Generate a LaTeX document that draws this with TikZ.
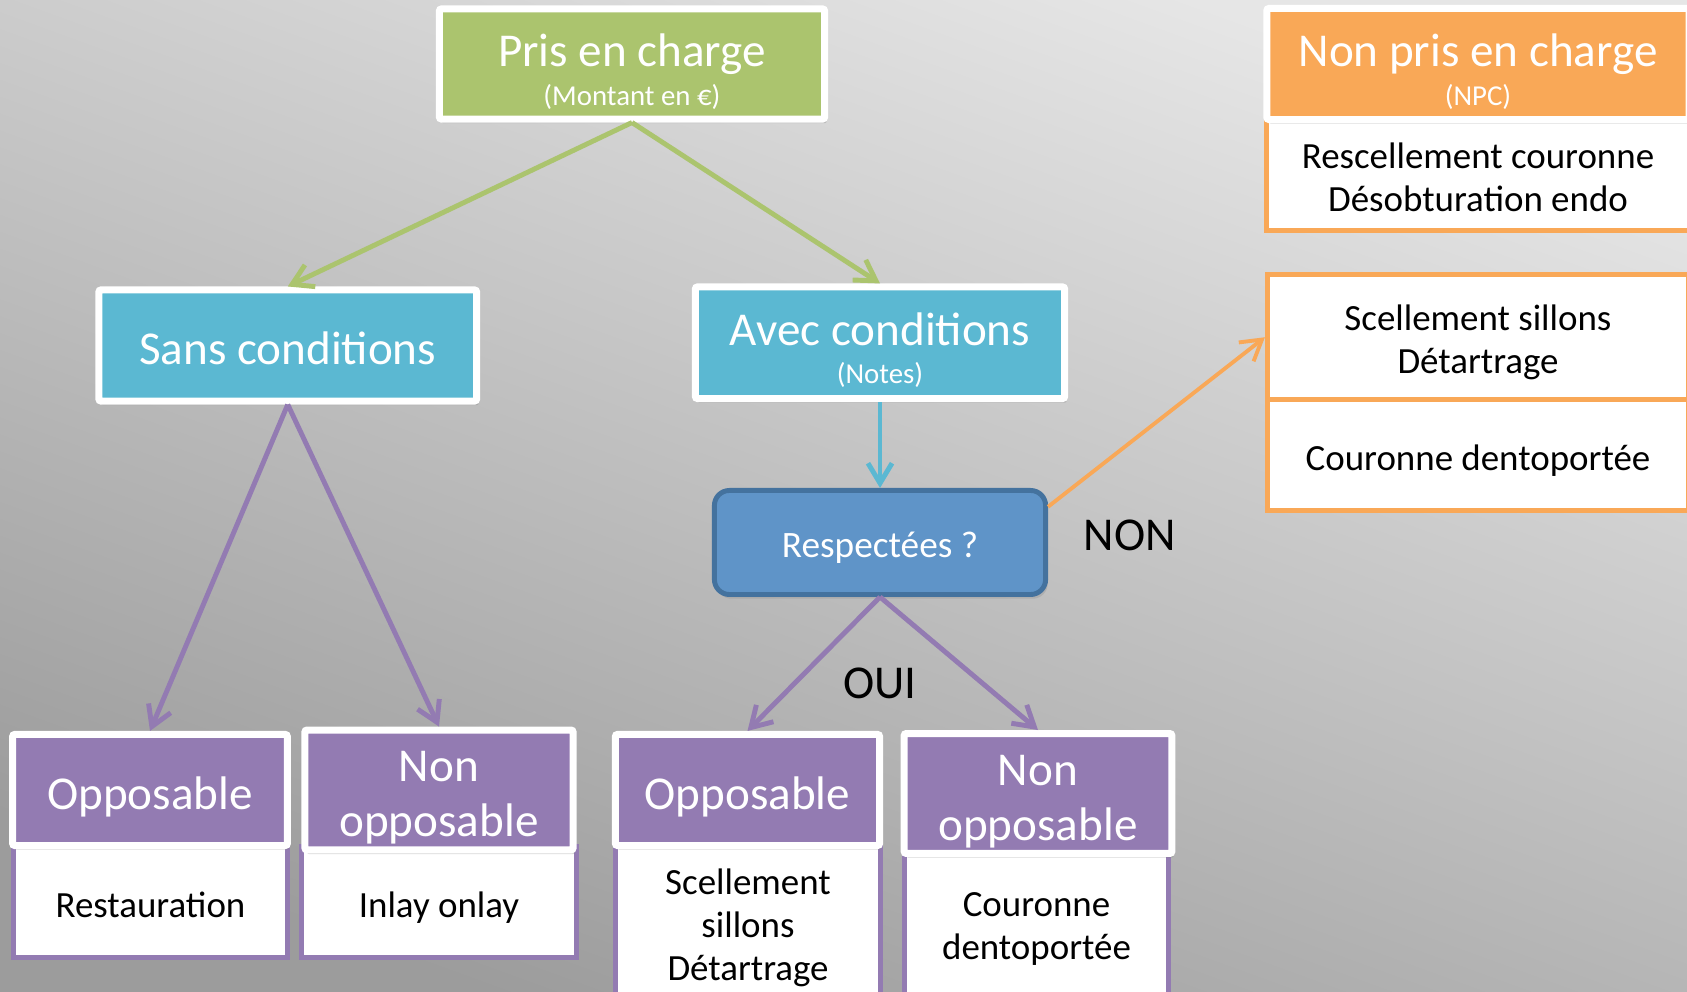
\documentclass[tikz,border=0pt]{standalone}
\usepackage{fontspec}
\setmainfont{Carlito}
\usetikzlibrary{arrows.meta,shadows}
\definecolor{grnbox}{HTML}{ABC46E}
\definecolor{cyanbox}{HTML}{5BB8D2}
\definecolor{purbox}{HTML}{937BB2}
\definecolor{orgbox}{HTML}{F9A857}
\definecolor{respfill}{HTML}{5F94C8}
\definecolor{respdraw}{HTML}{44729E}
\definecolor{bgtop}{HTML}{E6E6E6}
\definecolor{bgbot}{HTML}{9C9C9C}
\newcommand{\bigtxt}{\fontsize{13.4}{15.6}\selectfont}
\newcommand{\smalltxt}{\fontsize{8.2}{10}\selectfont}
\newcommand{\bodytxt}{\fontsize{10.5}{12.2}\selectfont}
% line box as the slide software sets it: top of first line, bottom of last line
\newcommand{\topstrut}{\rule{0pt}{1.1em}}
\newcommand{\botstrut}{\rule[-0.28em]{0pt}{0.28em}}

\begin{document}
\begin{tikzpicture}[x=0.01cm,y=-0.01cm,
    boxtxt/.style={inner sep=0pt,align=center},
    hdr/.style={boxtxt,draw=white,line width=2pt,rounded corners=0.6pt,text=white,font=\bigtxt,
                drop shadow={opacity=0.3,shadow xshift=0.6pt,shadow yshift=-1.2pt}},
    cnt/.style={boxtxt,fill=white,line width=1.4pt,font=\bodytxt},
    lnk/.style={line width=1.4pt,-{Straight Barb[length=2mm,width=2.4mm]}}]
    \useasboundingbox (0,0) rectangle (1687,992);
    \shade[top color=bgtop,bottom color=bgbot,shading angle=-20] (0,0) rectangle (1687,992);

    % white boxes under the headers
    \node[cnt,draw=orgbox,minimum width=4.22cm,minimum height=1.125cm] (npclist) at (1478,174.5) {\topstrut Rescellement couronne\\Désobturation endo\botstrut};
    \node[cnt,draw=orgbox,minimum width=4.21cm,minimum height=1.255cm] (scel) at (1478,337.25) {\topstrut Scellement sillons\\Détartrage\botstrut};
    \node[cnt,draw=orgbox,minimum width=4.21cm,minimum height=1.105cm] (cour) at (1478,455.25) {\topstrut Couronne dentoportée\botstrut};
    \node[cnt,draw=purbox,minimum width=2.74cm,minimum height=1.11cm] (resto) at (150.5,902) {\topstrut Restauration\botstrut};
    \node[cnt,draw=purbox,minimum width=2.75cm,minimum height=1.11cm] (inlay) at (439,902) {\topstrut Inlay onlay\botstrut};
    \node[cnt,draw=purbox,minimum width=2.65cm,minimum height=1.54cm] (scel2) at (748,922) {\topstrut Scellement\\sillons\\Détartrage\botstrut};
    \node[cnt,draw=purbox,minimum width=2.64cm,minimum height=1.55cm] (cour2) at (1036.5,922.5) {\topstrut Couronne\\dentoportée\botstrut};

    % headers
    \node[hdr,fill=grnbox,font=\fontsize{13.4}{11.1}\selectfont,minimum width=3.85cm,minimum height=1.1cm] (pris) at (632,64) {\topstrut Pris en charge\\{\smalltxt(Montant en €)\botstrut}};
    \node[hdr,fill=orgbox,font=\fontsize{13.4}{11}\selectfont,minimum width=4.22cm,minimum height=1.11cm] (npc) at (1478,64) {\topstrut Non pris en charge\\{\smalltxt(NPC)\botstrut}};
    \node[hdr,fill=cyanbox,minimum width=3.775cm,minimum height=1.11cm] (sans) at (287.75,345.5) {\topstrut Sans conditions\botstrut};
    \node[hdr,fill=cyanbox,font=\fontsize{13.4}{10.8}\selectfont,minimum width=3.69cm,minimum height=1.115cm] (avec) at (880,342.75) {\topstrut Avec conditions\\{\smalltxt(Notes)\botstrut}};
    \node[boxtxt,draw=respdraw,fill=respfill,line width=1.4pt,rounded corners=0.15cm,text=white,font=\fontsize{10.6}{12}\selectfont,
          minimum width=3.31cm,minimum height=1.04cm,drop shadow={opacity=0.25,shadow xshift=0.6pt,shadow yshift=-1.2pt}] (resp) at (880,542.5) {\topstrut Respectées ?\botstrut};
    \node[hdr,fill=purbox,minimum width=2.745cm,minimum height=1.11cm] (opp1) at (150,790) {\topstrut Opposable\botstrut};
    \node[hdr,fill=purbox,minimum width=2.68cm,minimum height=1.11cm] (nopp1) at (439,790) {\topstrut Non\\opposable\botstrut};
    \node[hdr,fill=purbox,minimum width=2.64cm,minimum height=1.11cm] (opp2) at (747.5,790) {\topstrut Opposable\botstrut};
    \node[hdr,fill=purbox,minimum width=2.675cm,minimum height=1.11cm] (nopp2) at (1038,793.5) {\topstrut Non\\opposable\botstrut};

    \node[font=\bigtxt] (non) at (1130,535) {NON};
    \node[font=\bigtxt] (oui) at (880,683) {OUI};

    % connectors
    \draw[lnk,draw=grnbox] (pris.south) -- (sans.north);
    \draw[lnk,draw=grnbox] (pris.south) -- (avec.north);
    \draw[lnk,draw=purbox] (sans.south) -- (opp1.north);
    \draw[lnk,draw=purbox] (sans.south) -- (nopp1.north);
    \draw[lnk,draw=cyanbox] (avec.south) -- (resp.north);
    \draw[lnk,draw=purbox] (resp.south) -- (opp2.north);
    \draw[lnk,draw=purbox] (resp.south) -- (nopp2.north);
    \draw[lnk,draw=orgbox,line width=1.1pt] (resp.12) -- (scel.west);
\end{tikzpicture}
\end{document}
